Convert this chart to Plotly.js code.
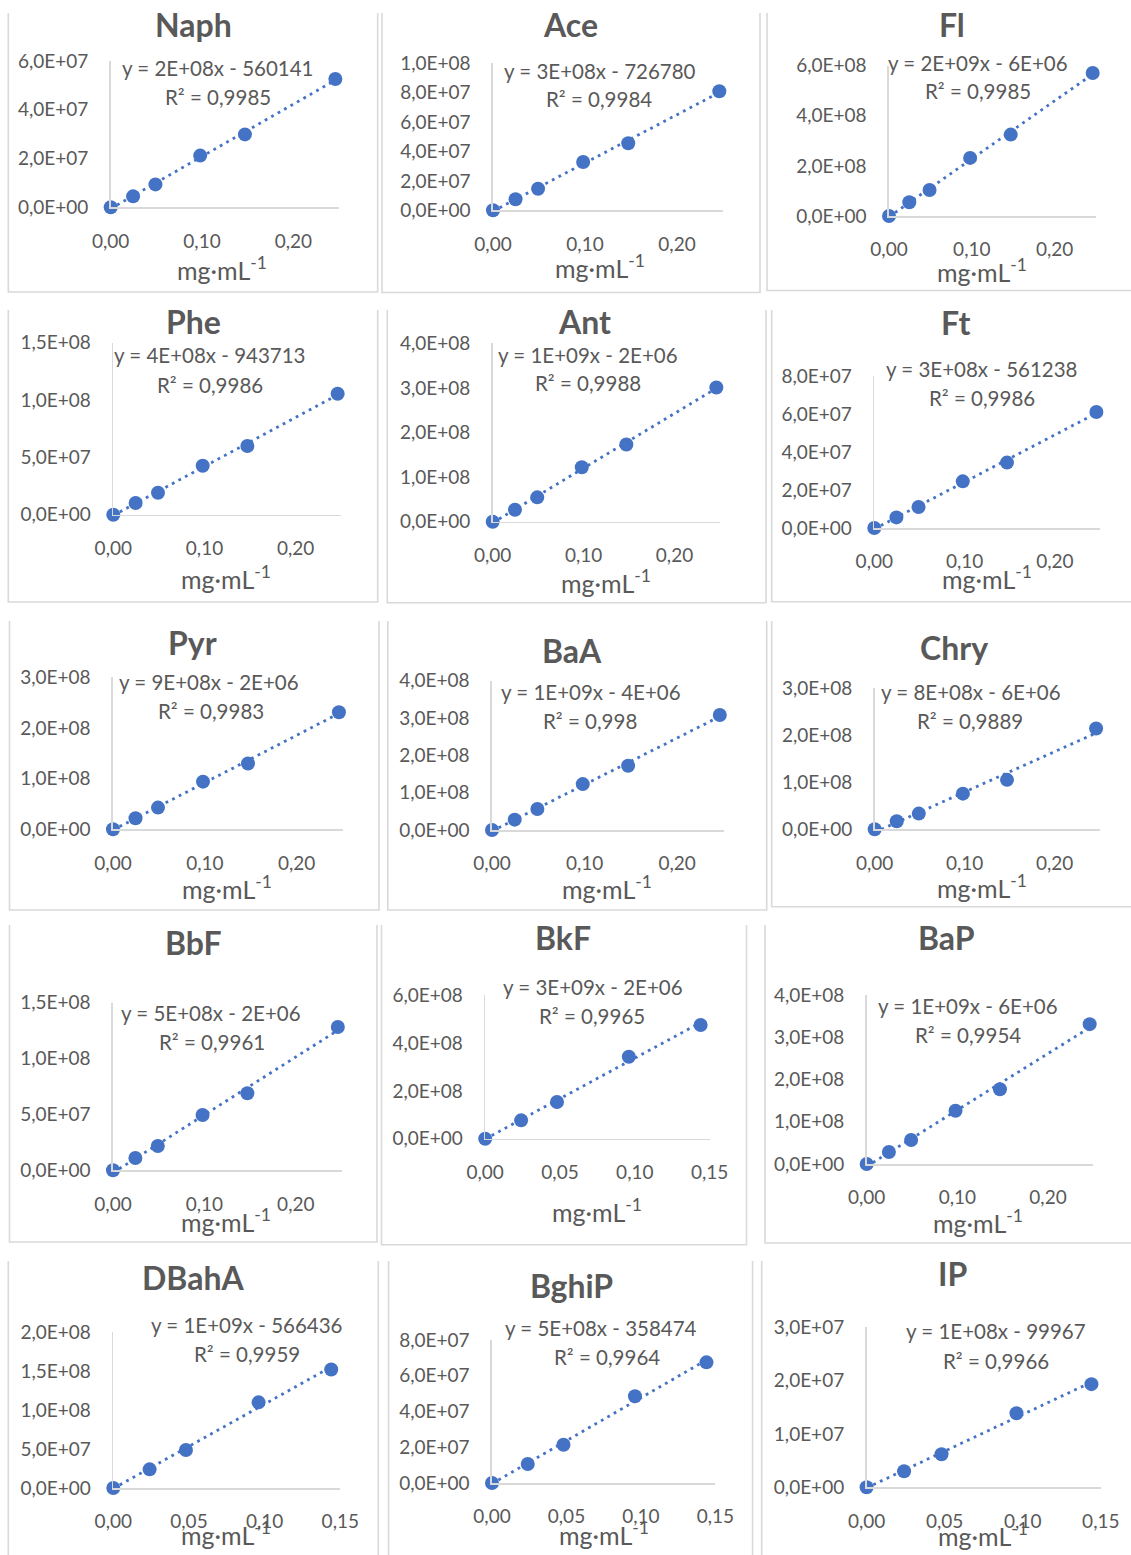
<!DOCTYPE html>
<html>
<head>
<meta charset="utf-8">
<script src="https://cdn.plot.ly/plotly-3.0.1.min.js"></script>
<style>html,body{margin:0;padding:0;background:#fff}#chart{width:1131px;height:1555px}</style>
</head>
<body>
<div id="chart"></div>
<script>
// ---------------- DATA ----------------
const compounds = ['Naph','Ace','Fl','Phe','Ant','Ft','Pyr','BaA','Chry','BbF','BkF','BaP','DBahA','BghiP','IP'];
const conc6 = [0, 0.0245, 0.049, 0.098, 0.147, 0.246];   // mg·mL-1
const conc5 = [0, 0.024, 0.048, 0.096, 0.144];           // mg·mL-1
const naph  = [0, 4.5e6, 9.4e6, 2.12e7, 2.99e7, 5.26e7];
const ace   = [0, 7.5e6, 1.47e7, 3.29e7, 4.56e7, 8.1e7];
const fl    = [0, 5.46e7, 1.04e8, 2.32e8, 3.25e8, 5.71e8];
const phe   = [0, 1.02e7, 1.92e7, 4.27e7, 5.99e7, 1.055e8];
const ant   = [0, 2.69e7, 5.46e7, 1.22e8, 1.73e8, 3.01e8];
const ft    = [0, 5.6e6, 1.11e7, 2.46e7, 3.45e7, 6.12e7];
const pyr   = [0, 2.17e7, 4.28e7, 9.4e7, 1.30e8, 2.31e8];
const baa   = [0, 2.77e7, 5.63e7, 1.23e8, 1.72e8, 3.08e8];
const chry  = [0, 1.7e7, 3.33e7, 7.57e7, 1.05e8, 2.14e8];
const bbf   = [0, 1.1e7, 2.18e7, 4.95e7, 6.89e7, 1.282e8];
const bkf   = [0, 7.68e7, 1.535e8, 3.43e8, 4.76e8];
const bap   = [0, 2.84e7, 5.68e7, 1.26e8, 1.77e8, 3.31e8];
const dbaha = [0, 2.39e7, 4.87e7, 1.098e8, 1.52e8];
const bghip = [0, 1.06e7, 2.14e7, 4.85e7, 6.75e7];
const ip    = [0, 3.0e6, 6.18e6, 1.385e7, 1.93e7];
const equations = ['y = 2E+08x - 560141','y = 3E+08x - 726780','y = 2E+09x - 6E+06',
  'y = 4E+08x - 943713','y = 1E+09x - 2E+06','y = 3E+08x - 561238',
  'y = 9E+08x - 2E+06','y = 1E+09x - 4E+06','y = 8E+08x - 6E+06',
  'y = 5E+08x - 2E+06','y = 3E+09x - 2E+06','y = 1E+09x - 6E+06',
  'y = 1E+09x - 566436','y = 5E+08x - 358474','y = 1E+08x - 99967'];
const r2 = ['0,9985','0,9984','0,9985','0,9986','0,9988','0,9986','0,9983','0,998','0,9889',
  '0,9961','0,9965','0,9954','0,9959','0,9964','0,9966'];
const yTicks = [
  [0,2e7,4e7,6e7],[0,2e7,4e7,6e7,8e7,1e8],[0,2e8,4e8,6e8],
  [0,5e7,1e8,1.5e8],[0,1e8,2e8,3e8,4e8],[0,2e7,4e7,6e7,8e7],
  [0,1e8,2e8,3e8],[0,1e8,2e8,3e8,4e8],[0,1e8,2e8,3e8],
  [0,5e7,1e8,1.5e8],[0,2e8,4e8,6e8],[0,1e8,2e8,3e8,4e8],
  [0,5e7,1e8,1.5e8,2e8],[0,2e7,4e7,6e7,8e7],[0,1e7,2e7,3e7]];
const xTicksWide = [0, 0.10, 0.20];
const xTicksNarrow = [0, 0.05, 0.10, 0.15];
const xAxisTitle = 'mg·mL<sup>-1</sup>';

const seriesY = [naph, ace, fl, phe, ant, ft, pyr, baa, chry, bbf, bkf, bap, dbaha, bghip, ip];
const seriesX = [conc6, conc6, conc6, conc6, conc6, conc6, conc6, conc6, conc6, conc6, conc5, conc6, conc5, conc5, conc5];

// ---------------- LAYOUT GEOMETRY (pixels) ----------------
const W = 1131, H = 1555;
// plot area: [x of origin, x of axis end, y of origin, y of top tick], axis x max
const plotBox = [
  [110.7, 339, 207.3, 61, 0.25], [493, 723, 210.3, 63.3, 0.25], [889, 1096, 216, 65.7, 0.25],
  [113.3, 341.3, 514.7, 342.7, 0.25], [492.7, 720, 521.7, 343.3, 0.25], [874.3, 1100, 528, 376.3, 0.25],
  [113, 342.6, 829.3, 677.3, 0.25], [492, 723.5, 830, 680.7, 0.25], [874.7, 1099.7, 829.3, 688, 0.25],
  [113, 341.5, 1170.3, 1002.7, 0.25], [485.2, 709.6, 1138.7, 995.3, 0.15], [866.7, 1093.3, 1164, 995, 0.25],
  [113.3, 340.3, 1488, 1332, 0.15], [492, 715.4, 1483, 1340, 0.15], [866.6, 1100.8, 1487.3, 1327, 0.15]];
const titlePos = [[193,25],[570,25],[952,25],[193,321],[584,321],[955,322],[192,643],[572,650],[954,647],
  [193,942],[563,937],[946,938],[193,1277],[571,1285],[952,1273]];
const eqPos = [[218,68],[600,71],[978,63],[210,355],[588,355],[982,369],[209,682],[591,692],[971,692],
  [211,1013],[593,987],[968,1006],[247,1325],[601,1328],[996,1331]];
const r2Pos = [[218,97],[599,99],[978,91],[210,385],[588,383],[982,398],[211,711],[590,721],[970,721],
  [212,1042],[592,1016],[968,1035],[247,1354],[607,1357],[996,1361]];
const xtPos = [[222,268],[600,266],[982,270],[226,578],[606,581],[987,578],[227,887],[607,887],[982,886],
  [226,1220],[597,1210],[978,1221],[226,1533],[604,1533],[983,1534]];
const frames = [
  [8.3,377.7,13,292],[382,760,13,292.5],[767,1140,13,290.5],
  [8.3,377.7,310,602],[387.3,766,310,602.7],[771.7,1140,310,601.7],
  [9.5,379,621,910],[387.8,766.7,621,910],[771.7,1140,621,906.7],
  [9.5,377,925,1242],[381.5,746.5,925,1244.7],[765,1140,925,1243],
  [8.3,378.3,1261,1560],[388.6,752.6,1261,1560],[761.7,1140,1261,1560]];

const BLUE = '#4472C4', TXT = '#595959', AX = '#d9d9d9';
const FONT = 'Lato, "Open Sans", sans-serif';

function fmtE(v) {
  if (v === 0) return '0,0E+00';
  const e = Math.floor(Math.log10(v) + 1e-9);
  const m = v / Math.pow(10, e);
  return m.toFixed(1).replace('.', ',') + 'E+' + String(e).padStart(2, '0');
}
function fmtX(v) { return v.toFixed(2).replace('.', ','); }
function fit(xs, ys) {
  const n = xs.length;
  const mx = xs.reduce((a,b)=>a+b,0)/n, my = ys.reduce((a,b)=>a+b,0)/n;
  let sxy = 0, sxx = 0;
  for (let i=0;i<n;i++){ sxy += (xs[i]-mx)*(ys[i]-my); sxx += (xs[i]-mx)*(xs[i]-mx); }
  const b = sxy/sxx; return [b, my - b*mx];
}
const px = v => v / W;
const py = v => 1 - v / H;

const traces = [], annotations = [], shapes = [];
const layout = {
  width: W, height: H, margin: {l:0, r:0, t:0, b:0},
  paper_bgcolor: '#ffffff', plot_bgcolor: 'rgba(0,0,0,0)',
  showlegend: false, font: {family: FONT, color: TXT},
  annotations, shapes
};

compounds.forEach((name, i) => {
  const k = i === 0 ? '' : String(i + 1);
  const [xl, xr, yb, yt, xmax] = plotBox[i];
  const xs = seriesX[i], ys = seriesY[i];
  const yt_vals = yTicks[i];
  const ymax = yt_vals[yt_vals.length - 1];
  const xt_vals = xmax > 0.2 ? xTicksWide : xTicksNarrow;
  const [b, a] = fit(xs, ys);
  const xEnd = xs[xs.length - 1];

  traces.push({
    type: 'scatter', mode: 'lines', x: [0, xEnd], y: [a, a + b * xEnd],
    xaxis: 'x' + k, yaxis: 'y' + k, hoverinfo: 'skip',
    line: {color: BLUE, width: 2.8, dash: '2.8px,4.6px'}
  });
  traces.push({
    type: 'scatter', mode: 'markers', x: xs, y: ys, name: name,
    xaxis: 'x' + k, yaxis: 'y' + k, cliponaxis: false,
    marker: {color: BLUE, size: 14}
  });

  layout['xaxis' + k] = {
    domain: [px(xl), px(xr)], range: [0, xmax], anchor: 'y' + k,
    showline: true, linecolor: AX, linewidth: 1.6, showgrid: false, zeroline: false,
    ticks: 'outside', ticklen: 16, tickcolor: 'rgba(0,0,0,0)',
    tickvals: xt_vals, ticktext: xt_vals.map(fmtX),
    tickfont: {family: FONT, size: 19, color: TXT}, fixedrange: true
  };
  layout['yaxis' + k] = {
    domain: [py(yb), py(yt)], range: [0, ymax], anchor: 'x' + k,
    showline: true, linecolor: AX, linewidth: 1.6, showgrid: false, zeroline: false,
    ticks: 'outside', ticklen: 17, tickcolor: 'rgba(0,0,0,0)',
    tickvals: yt_vals, ticktext: yt_vals.map(fmtE),
    tickfont: {family: FONT, size: 19, color: TXT}, fixedrange: true
  };

  const ann = (pos, text, size, extra) => Object.assign({
    xref: 'paper', yref: 'paper', x: px(pos[0]), y: py(pos[1]),
    xanchor: 'center', yanchor: 'middle', showarrow: false, text: text,
    font: {family: FONT, size: size, color: TXT}
  }, extra || {});
  annotations.push(ann(titlePos[i], '<b>' + name + '</b>', 32));
  annotations.push(ann(eqPos[i], equations[i], 20.5));
  annotations.push(ann(r2Pos[i], 'R² = ' + r2[i], 20.5));
  annotations.push(ann(xtPos[i], xAxisTitle, 25));

  const [L, R, T, B] = frames[i];
  shapes.push({
    type: 'path', xref: 'paper', yref: 'paper', layer: 'below',
    path: `M ${px(L)},${py(T)} L ${px(L)},${py(B)} L ${px(R)},${py(B)} L ${px(R)},${py(T)}`,
    line: {color: AX, width: 1.6}
  });
});

Plotly.newPlot('chart', traces, layout, {staticPlot: true, displayModeBar: false});
</script>
</body>
</html>
